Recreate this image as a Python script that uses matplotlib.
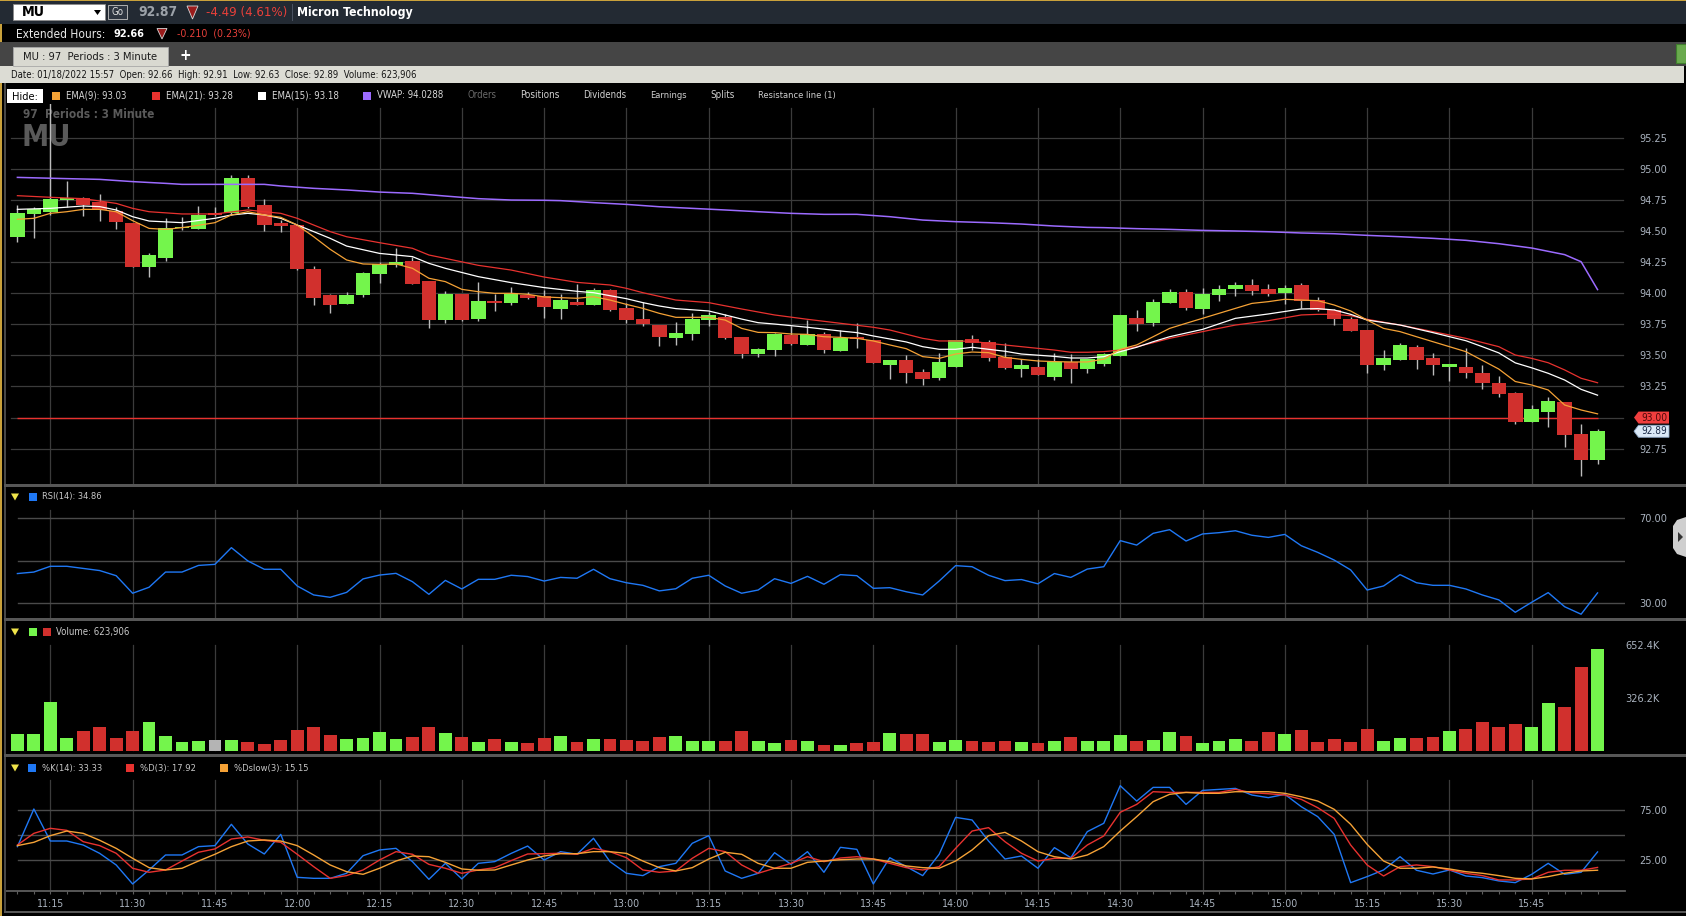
import numpy as np
import matplotlib.pyplot as plt
import matplotlib.font_manager as fm
from matplotlib.patches import Rectangle, Polygon
from matplotlib.transforms import Affine2D, blended_transform_factory

W, H = 1686, 916

# the trading UI uses a narrow font: take a narrow/condensed face if one is installed
_narrow = [f for f in fm.fontManager.ttflist
           if ('Narrow' in f.name or 'Condensed' in f.name or f.stretch == 'condensed')
           and 'Mono' not in f.name]
if _narrow:
    plt.rcParams['font.family'] = [_narrow[0].name, 'DejaVu Sans']
    if _narrow[0].stretch == 'condensed':
        plt.rcParams['font.stretch'] = 'condensed'
else:
    plt.rcParams['font.family'] = ['Liberation Sans', 'DejaVu Sans']

# --- Data (MU, 3 minute bars, 01/18/2022) ---
start_minute = 11 * 60 + 9
bar_minutes = 3

opens = [94.454, 94.639, 94.653, 94.752, 94.765, 94.733, 94.661, 94.562, 94.213, 94.286,
         94.521, 94.519, 94.637, 94.642, 94.926, 94.706, 94.562, 94.546, 94.194, 93.983,
         93.916, 93.988, 94.157, 94.227, 94.256, 94.098, 93.785, 93.994, 93.793, 93.929,
         93.924, 93.985, 93.976, 93.873, 93.929, 93.905, 94.026, 93.881, 93.792, 93.744,
         93.640, 93.672, 93.784, 93.809, 93.648, 93.511, 93.543, 93.664, 93.584, 93.672,
         93.535, 93.645, 93.624, 93.423, 93.463, 93.366, 93.318, 93.407, 93.632, 93.608,
         93.487, 93.391, 93.407, 93.326, 93.447, 93.391, 93.431, 93.498, 93.798, 93.760,
         93.924, 94.010, 93.876, 93.988, 94.036, 94.066, 94.034, 94.004, 94.066, 93.945,
         93.865, 93.792, 93.704, 93.423, 93.463, 93.567, 93.479, 93.409, 93.407, 93.358,
         93.278, 93.198, 92.964, 93.045, 93.125, 92.868, 92.66]
highs = [94.709, 94.690, 95.550, 94.902, 94.770, 94.797, 94.696, 94.565, 94.320, 94.604,
         94.610, 94.701, 94.690, 94.950, 94.950, 94.757, 94.588, 94.548, 94.221, 93.994,
         94.007, 94.170, 94.251, 94.366, 94.288, 94.100, 94.020, 93.996, 94.087, 93.994,
         94.047, 94.007, 94.026, 93.993, 94.074, 94.044, 94.031, 93.921, 93.932, 93.746,
         93.768, 93.841, 93.851, 93.833, 93.650, 93.559, 93.683, 93.739, 93.787, 93.685,
         93.701, 93.760, 93.626, 93.465, 93.503, 93.391, 93.522, 93.626, 93.664, 93.624,
         93.600, 93.471, 93.471, 93.519, 93.511, 93.473, 93.519, 93.827, 93.862, 93.953,
         94.031, 94.031, 94.042, 94.066, 94.090, 94.114, 94.077, 94.069, 94.082, 93.969,
         93.876, 93.811, 93.706, 93.543, 93.600, 93.584, 93.519, 93.433, 93.559, 93.423,
         93.334, 93.206, 93.101, 93.165, 93.127, 92.948, 92.91]
lows = [94.414, 94.441, 94.629, 94.690, 94.623, 94.583, 94.516, 94.210, 94.133, 94.259,
        94.508, 94.513, 94.620, 94.629, 94.688, 94.503, 94.495, 94.186, 93.905, 93.843,
        93.914, 93.969, 94.085, 94.213, 94.071, 93.723, 93.763, 93.779, 93.779, 93.860,
        93.908, 93.951, 93.803, 93.792, 93.903, 93.903, 93.857, 93.763, 93.739, 93.575,
        93.584, 93.624, 93.739, 93.632, 93.482, 93.490, 93.498, 93.584, 93.582, 93.522,
        93.533, 93.559, 93.440, 93.313, 93.281, 93.265, 93.302, 93.405, 93.543, 93.458,
        93.391, 93.326, 93.340, 93.302, 93.281, 93.361, 93.415, 93.496, 93.699, 93.739,
        93.922, 93.868, 93.835, 93.940, 93.980, 93.988, 93.980, 93.916, 93.884, 93.860,
        93.747, 93.697, 93.361, 93.383, 93.461, 93.393, 93.342, 93.297, 93.318, 93.230,
        93.165, 92.948, 92.962, 92.924, 92.764, 92.530, 92.63]
closes = [94.642, 94.674, 94.757, 94.760, 94.709, 94.669, 94.572, 94.213, 94.307, 94.525,
          94.531, 94.629, 94.629, 94.926, 94.693, 94.551, 94.543, 94.194, 93.964, 93.908,
          93.985, 94.162, 94.232, 94.248, 94.077, 93.785, 93.994, 93.785, 93.937, 93.924,
          93.994, 93.964, 93.885, 93.945, 93.905, 94.026, 93.865, 93.784, 93.755, 93.648,
          93.680, 93.792, 93.825, 93.640, 93.514, 93.551, 93.672, 93.592, 93.672, 93.543,
          93.642, 93.632, 93.442, 93.463, 93.361, 93.313, 93.447, 93.624, 93.600, 93.479,
          93.399, 93.423, 93.342, 93.447, 93.391, 93.471, 93.511, 93.825, 93.755, 93.929,
          94.010, 93.884, 93.993, 94.034, 94.066, 94.020, 93.996, 94.042, 93.940, 93.868,
          93.792, 93.699, 93.423, 93.479, 93.584, 93.463, 93.423, 93.431, 93.361, 93.278,
          93.192, 92.964, 93.069, 93.133, 92.860, 92.659, 92.89]
volumes = [103500, 103500, 298000, 80700, 124000, 143000, 80700, 124000, 174000, 93000,
           56000, 62000, 68000, 68000, 56000, 43000, 68000, 130000, 147000, 99000,
           74500, 80700, 112000, 74500, 87000, 147000, 105600, 87000, 56000, 74500,
           56000, 50000, 80700, 93000, 56000, 74500, 74500, 68000, 62000, 87000,
           93000, 62000, 62000, 62000, 118000, 62000, 50000, 68000, 62000, 37000,
           37000, 47600, 53800, 110000, 103500, 103500, 53800, 66000, 60000, 53800,
           60000, 53800, 47600, 60000, 85000, 60000, 60000, 97000, 60000, 66000,
           116000, 91000, 47600, 60000, 72000, 60000, 116000, 103500, 128000, 53800,
           72000, 53800, 134500, 60000, 78700, 78700, 85000, 122000, 134500, 178000,
           147000, 165600, 147000, 296000, 271000, 513000, 623906]

ema9 = [94.594, 94.602, 94.642, 94.655, 94.674, 94.674, 94.655, 94.583, 94.521, 94.513,
        94.527, 94.546, 94.567, 94.629, 94.655, 94.629, 94.610, 94.548, 94.454, 94.353,
        94.267, 94.235, 94.232, 94.235, 94.200, 94.120, 94.093, 94.031, 94.012, 93.999,
        93.999, 93.991, 93.970, 93.964, 93.959, 93.972, 93.945, 93.910, 93.878, 93.838,
        93.806, 93.806, 93.806, 93.784, 93.717, 93.685, 93.683, 93.672, 93.669, 93.650,
        93.645, 93.637, 93.616, 93.584, 93.554, 93.490, 93.476, 93.511, 93.527, 93.522,
        93.484, 93.468, 93.455, 93.450, 93.447, 93.447, 93.470, 93.549, 93.584, 93.650,
        93.717, 93.758, 93.798, 93.838, 93.878, 93.918, 93.932, 93.951, 93.945, 93.940,
        93.905, 93.857, 93.784, 93.717, 93.691, 93.650, 93.610, 93.570, 93.530, 93.460,
        93.390, 93.290, 93.262, 93.222, 93.101, 93.061, 93.03]

ema15_idx = [0, 2, 4, 5, 6, 7, 8, 10, 12, 13, 14, 15, 16, 17, 18, 19, 20, 22, 24, 25,
             26, 28, 30, 32, 34, 35, 36, 37, 38, 39, 40, 42, 43, 44, 45, 46, 48, 50, 51, 52,
             54, 55, 56, 57, 58, 59, 60, 61, 63, 64, 65, 66, 67, 68, 69, 70, 72, 74, 76, 78,
             79, 80, 81, 82, 84, 86, 88, 89, 90, 91, 92, 93, 94, 95, 96]
ema15_val = [94.674, 94.682, 94.701, 94.696, 94.669, 94.615, 94.580, 94.567, 94.602, 94.629,
             94.642, 94.629, 94.602, 94.548, 94.495, 94.441, 94.379, 94.320, 94.294, 94.240,
             94.200, 94.133, 94.085, 94.045, 94.015, 94.004, 93.980, 93.956, 93.924, 93.897,
             93.876, 93.857, 93.825, 93.792, 93.763, 93.752, 93.726, 93.696, 93.683, 93.656,
             93.608, 93.570, 93.549, 93.549, 93.565, 93.549, 93.533, 93.511, 93.492, 93.479,
             93.479, 93.490, 93.530, 93.565, 93.610, 93.650, 93.709, 93.798, 93.833, 93.873,
             93.876, 93.865, 93.830, 93.784, 93.744, 93.683, 93.618, 93.570, 93.520, 93.440,
             93.400, 93.356, 93.302, 93.227, 93.18]

ema21_idx = [0, 2, 4, 6, 7, 8, 10, 12, 14, 15, 16, 17, 18, 19, 20, 22, 24, 25, 26, 28,
             30, 32, 34, 36, 37, 38, 40, 42, 44, 46, 48, 50, 52, 53, 55, 56, 57, 58, 59, 61,
             63, 64, 65, 66, 67, 68, 69, 70, 72, 74, 76, 78, 79, 80, 81, 82, 84, 86, 88, 90,
             91, 92, 93, 94, 95, 96]
ema21_val = [94.784, 94.771, 94.760, 94.722, 94.682, 94.655, 94.637, 94.637, 94.669, 94.655,
             94.642, 94.602, 94.548, 94.495, 94.454, 94.406, 94.361, 94.307, 94.280, 94.224,
             94.186, 94.130, 94.087, 94.066, 94.039, 94.004, 93.945, 93.924, 93.873, 93.825,
             93.790, 93.758, 93.726, 93.704, 93.637, 93.616, 93.616, 93.613, 93.597, 93.570,
             93.543, 93.525, 93.525, 93.530, 93.543, 93.570, 93.602, 93.637, 93.691, 93.744,
             93.779, 93.825, 93.830, 93.830, 93.819, 93.790, 93.744, 93.691, 93.637, 93.570,
             93.503, 93.476, 93.441, 93.383, 93.316, 93.28]

vwap_idx = [0, 3, 5, 7, 9, 10, 15, 16, 18, 20, 22, 24, 26, 28, 30, 32, 33, 35, 37, 39,
            41, 43, 45, 47, 49, 51, 53, 55, 57, 59, 61, 63, 65, 66, 68, 70, 72, 74, 76, 78,
            80, 82, 84, 86, 88, 90, 92, 94, 95, 96]
vwap_val = [94.931, 94.921, 94.915, 94.897, 94.883, 94.875, 94.875, 94.862, 94.843, 94.830,
            94.813, 94.803, 94.781, 94.760, 94.749, 94.747, 94.744, 94.728, 94.714, 94.695,
            94.682, 94.669, 94.655, 94.642, 94.634, 94.634, 94.615, 94.588, 94.575, 94.567,
            94.556, 94.540, 94.529, 94.527, 94.519, 94.513, 94.505, 94.500, 94.494, 94.484,
            94.478, 94.465, 94.454, 94.441, 94.425, 94.398, 94.363, 94.310, 94.253, 94.0288]

rsi = [43.9, 44.6, 47.3, 47.3, 46.3, 45.3, 42.9, 34.7, 37.5, 44.6,
       44.6, 47.7, 48.2, 56.0, 49.8, 45.9, 45.9, 38.1, 33.9, 32.8,
       35.1, 41.4, 43.2, 44.0, 40.1, 34.2, 40.7, 36.7, 41.2, 41.2,
       43.1, 42.5, 40.4, 42.1, 41.7, 45.9, 41.5, 39.6, 38.4, 35.8,
       36.8, 41.7, 43.1, 38.1, 34.7, 36.2, 41.5, 39.3, 42.6, 38.9,
       43.4, 42.9, 37.0, 37.3, 35.4, 33.9, 40.4, 47.6, 47.1, 43.1,
       40.6, 41.1, 39.1, 43.9, 42.1, 46.0, 47.1, 59.3, 57.2, 62.7,
       64.4, 59.1, 62.4, 63.0, 63.9, 61.8, 60.8, 62.2, 56.9, 53.8,
       50.2, 45.6, 36.2, 38.1, 43.4, 39.6, 38.4, 38.4, 36.7, 33.9,
       31.6, 25.8, 30.5, 35.0, 28.4, 24.9, 34.86]

stoch_k = [38.6, 76.0, 44.2, 44.2, 40.2, 31.9, 20.4, 1.5, 15.4, 30.3,
           30.3, 38.6, 39.6, 60.8, 41.2, 31.3, 50.8, 8.1, 7.1, 7.1,
           12.1, 29.6, 35.3, 36.9, 23.7, 6.1, 22.0, 6.5, 22.0, 23.7,
           31.9, 39.2, 25.3, 33.6, 31.0, 46.9, 23.7, 12.1, 9.8, 18.7,
           22.0, 41.9, 49.5, 14.4, 7.1, 12.1, 32.6, 21.0, 33.6, 13.1,
           37.9, 35.9, 1.5, 27.6, 18.7, 9.8, 31.0, 67.7, 65.1, 44.2,
           26.3, 29.3, 17.1, 37.6, 27.6, 53.5, 61.8, 99.2, 83.9, 97.5,
           97.5, 80.6, 94.5, 95.5, 96.5, 89.9, 87.3, 90.6, 78.3, 68.4,
           50.8, 2.8, 8.8, 15.4, 28.6, 15.1, 11.4, 15.4, 9.4, 7.8,
           4.5, 2.8, 11.1, 22.0, 11.1, 13.1, 33.33]
stoch_d = [40.2, 51.8, 56.8, 54.8, 43.5, 39.6, 32.0, 17.1, 13.1, 15.4,
           24.3, 33.0, 36.3, 46.2, 48.2, 44.9, 42.9, 31.0, 18.7, 7.1,
           9.8, 15.4, 25.3, 33.6, 31.0, 21.0, 17.1, 12.1, 15.4, 17.7,
           24.7, 31.3, 31.6, 32.0, 31.0, 36.9, 33.6, 27.6, 15.4, 13.1,
           14.4, 27.0, 36.9, 33.6, 20.4, 12.1, 17.1, 22.0, 28.6, 23.7,
           27.3, 28.6, 26.3, 22.0, 17.7, 15.4, 18.7, 36.9, 54.1, 57.5,
           43.5, 32.0, 24.3, 27.0, 27.0, 40.2, 49.2, 72.7, 80.6, 93.2,
           92.5, 92.5, 92.5, 92.5, 95.5, 92.2, 91.2, 89.9, 85.6, 77.3,
           66.7, 40.2, 20.4, 9.4, 18.7, 20.4, 18.7, 15.4, 12.1, 9.8,
           5.5, 5.5, 6.5, 13.1, 15.1, 15.1, 17.92]
stoch_dslow = [39.6, 42.9, 49.5, 54.1, 51.8, 44.9, 36.9, 27.0, 17.7, 15.4,
               17.1, 24.3, 31.0, 38.6, 44.2, 45.2, 44.2, 39.6, 30.3, 20.4,
               13.7, 11.1, 17.1, 24.3, 29.3, 28.6, 23.0, 16.4, 15.1, 15.4,
               20.4, 25.3, 29.3, 31.6, 31.6, 33.6, 33.6, 31.9, 24.3, 17.7,
               14.4, 17.7, 26.3, 33.0, 31.0, 22.0, 17.1, 17.1, 23.0, 24.3,
               25.6, 26.3, 26.3, 23.7, 19.4, 17.7, 17.1, 24.3, 35.3, 49.5,
               52.8, 44.2, 33.6, 28.6, 26.3, 30.3, 38.6, 54.1, 68.4, 83.3,
               90.6, 92.5, 91.6, 91.6, 93.2, 93.2, 93.2, 91.6, 88.2, 83.9,
               75.7, 60.8, 40.9, 24.3, 17.1, 17.1, 18.4, 16.4, 13.7, 12.1,
               9.8, 7.1, 6.5, 8.8, 12.1, 14.4, 15.15]

resistance = 93.00
price_ticks = [92.75, 93.00, 93.25, 93.50, 93.75, 94.00, 94.25, 94.50, 94.75, 95.00, 95.25]
price_tick_labels = ['92.75', '93.00', '93.25', '93.50', '93.75', '94.00',
                     '94.25', '94.50', '94.75', '95.00', '95.25']
rsi_ticks = [30, 70]
rsi_tick_labels = ['30.00', '70.00']
vol_ticks = [326200, 652400]
vol_tick_labels = ['326.2K', '652.4K']
stoch_ticks = [25, 75]
stoch_tick_labels = ['25.00', '75.00']
time_labels = ['11:15', '11:30', '11:45', '12:00', '12:15', '12:30', '12:45', '13:00',
               '13:15', '13:30', '13:45', '14:00', '14:15', '14:30', '14:45', '15:00',
               '15:15', '15:30', '15:45']

# --- Colors ---
COL_UP = '#74f54c'
COL_DN = '#d1302d'
COL_FLAT = '#b4b4b4'
COL_WICK = '#bcbcbc'
COL_EMA9 = '#f5a236'
COL_EMA21 = '#e8322f'
COL_EMA15 = '#ffffff'
COL_VWAP = '#9c6bff'
COL_BLUE = '#1f78f5'
COL_GRID = '#3b3b3b'
COL_GRID2 = '#4a4a4a'
COL_AXTXT = '#aab3bf'
COL_SEP = '#575757'
COL_GOLD = '#c9a13b'

n = len(closes)
idx = np.arange(n)
o = np.array(opens)
c = np.array(closes)
hi = np.array(highs)
lo = np.array(lows)

tick_pos = [(int(t[:-3]) * 60 + int(t[-2:]) - start_minute) // bar_minutes for t in time_labels]

candle_cols = [COL_UP if cc >= oo else COL_DN for oo, cc in zip(o, c)]
vol_cols = [candle_cols[0]]
for i in range(1, n):
    d = round(c[i] - c[i - 1], 4)
    vol_cols.append(COL_UP if d > 0 else (COL_DN if d < 0 else COL_FLAT))

# --- Figure ---
fig = plt.figure(figsize=(W / 100, H / 100), dpi=100, facecolor='black')
PX = Affine2D().scale(1.0 / W, -1.0 / H).translate(0, 1) + fig.transFigure
renderer = fig.canvas.get_renderer()


def fit_size(s, width, weight='normal'):
    # font size that makes the text `width` pixels wide
    t = fig.text(0, 0, s, fontsize=10, fontweight=weight)
    w = t.get_window_extent(renderer).width
    t.remove()
    return 10.0 * width / w


def rect(x0, y0, x1, y1, **kw):
    fig.add_artist(Rectangle((x0, y0), x1 - x0, y1 - y0, transform=PX, **kw))


def poly(pts, **kw):
    fig.add_artist(Polygon(pts, closed=True, transform=PX, **kw))


def txt(x, y, s, width=None, size=8, **kw):
    kw.setdefault('va', 'center')
    if width is not None:
        size = min(size, fit_size(s, width, kw.get('fontweight', 'normal')))
    fig.text(x, y, s, transform=PX, fontsize=size, **kw)


X0, X1 = 6, 1625
AX_FS = min(9.5, fit_size('95.25', 28))


def panel(y0, y1):
    ax = fig.add_axes([X0 / W, 1 - y1 / H, (X1 - X0) / W, (y1 - y0) / H])
    ax.set_facecolor('black')
    for s in ax.spines.values():
        s.set_visible(False)
    ax.set_xlim((X0 - 17.4) / 16.46, (X1 - 17.4) / 16.46)
    ax.tick_params(which='both', left=False, right=False, bottom=False, top=False,
                   labelleft=False, labelbottom=False)
    return ax


def vgrid(ax, ymin, ymax):
    for p in tick_pos:
        ax.axvline(p, ymin=ymin, ymax=ymax, color=COL_GRID, lw=0.9, zorder=0)


def right_labels(ax, ticks, labels, pad):
    ax.set_yticks(ticks)
    ax.set_yticklabels(labels)
    ax.tick_params(axis='y', labelright=True, labelleft=False, right=False, left=False,
                   length=0, pad=pad, labelsize=AX_FS, labelcolor=COL_AXTXT)


# --- Price panel ---
axp = panel(104, 484)
axp.set_ylim(92.466, 95.521)
vgrid(axp, 0, 0.9895)
for v in price_ticks:
    axp.axhline(v, xmin=0.003, xmax=0.9988, color=COL_GRID, lw=0.9, zorder=0)
axp.text(23, 118.5, '97  Periods : 3 Minute', transform=PX, color='#5a5a5a',
         fontsize=min(10.5, fit_size('97  Periods : 3 Minute', 130, 'bold')),
         fontweight='bold', va='baseline', zorder=0.5)
axp.text(21, 146, 'MU', transform=PX, color='#5a5a5a',
         fontsize=min(22, fit_size('MU', 55, 'bold')),
         fontweight='bold', va='baseline', zorder=0.5)
axp.hlines(resistance, 0, n - 1, color=COL_EMA21, lw=1.0, zorder=1)
axp.vlines(idx, lo, hi, color=COL_WICK, lw=1.0, zorder=2)
axp.bar(idx, np.maximum(np.abs(c - o), 0.012), bottom=np.minimum(o, c), width=0.88,
        color=candle_cols, linewidth=0, zorder=3)
axp.plot(vwap_idx, vwap_val, color=COL_VWAP, lw=1.1, zorder=4)
axp.plot(ema21_idx, ema21_val, color=COL_EMA21, lw=0.9, zorder=4)
axp.plot(ema15_idx, ema15_val, color=COL_EMA15, lw=0.9, zorder=4)
axp.plot(idx, ema9, color=COL_EMA9, lw=0.9, zorder=4)
right_labels(axp, price_ticks, price_tick_labels, 10.5)

# --- RSI panel ---
axr = panel(487, 618)
axr.set_ylim(23.13, 84.35)
vgrid(axr, 0, 0.824)
for v in (30, 50, 70):
    axr.axhline(v, xmin=0.0074, xmax=0.9994, color=COL_GRID2, lw=1.0, zorder=0)
axr.plot(idx, rsi, color=COL_BLUE, lw=1.0, zorder=3)
right_labels(axr, rsi_ticks, rsi_tick_labels, 10.5)

# --- Volume panel ---
axv = panel(621, 753)
axv.set_ylim(-14700, 799300)
vgrid(axv, 0.023, 0.818)
axv.bar(idx, volumes, width=0.78, color=vol_cols, linewidth=0, zorder=3)
right_labels(axv, vol_ticks, vol_tick_labels, 0.5)

# --- Stochastic panel ---
axs = panel(757, 891)
axs.set_ylim(-5.5, 127.7)
vgrid(axs, 0, 0.828)
for v in (25, 50, 75):
    axs.axhline(v, xmin=0.0074, xmax=0.9994, color=COL_GRID2, lw=1.0, zorder=0)
axs.plot(idx, stoch_k, color=COL_BLUE, lw=1.0, zorder=3)
axs.plot(idx, stoch_d, color=COL_EMA21, lw=1.0, zorder=3)
axs.plot(idx, stoch_dslow, color=COL_EMA9, lw=1.0, zorder=3)
right_labels(axs, stoch_ticks, stoch_tick_labels, 10.5)
axs.spines['bottom'].set_visible(True)
axs.spines['bottom'].set_color('#5e5e5e')
axs.spines['bottom'].set_linewidth(1.3)
axs.set_xticks(tick_pos)
axs.set_xticklabels(time_labels)
axs.set_xticks(idx, minor=True)
axs.tick_params(axis='x', which='both', bottom=True, labelbottom=True, length=2.5,
                width=0.8, color='#5e5e5e', direction='out', pad=3.5,
                labelsize=min(9.5, fit_size('11:15', 27)), labelcolor=COL_AXTXT)

# --- Price tags on the right axis ---
tagT = blended_transform_factory(PX, axp.transData)
hh = 6.0 * (95.521 - 92.466) / 380
TAG_FS = min(9.5, fit_size('93.00', 26))


def tag(val, fc, ec, tc):
    fig.add_artist(Polygon([(1634, val), (1638.5, val + hh), (1669, val + hh),
                            (1669, val - hh), (1638.5, val - hh)], closed=True,
                           transform=tagT, fc=fc, ec=ec, lw=0.6, zorder=5))
    fig.text(1667.5, val, f'{val:.2f}', transform=tagT, color=tc, fontsize=TAG_FS,
             ha='right', va='center', zorder=6)


tag(resistance, '#f03e3e', 'none', '#4a0808')
tag(closes[-1], '#dbe9f7', '#8fa9c8', '#1a2a48')

# --- Frame, separators ---
rect(0, 0, W, 1.3, fc=COL_GOLD, ec='none')
rect(0, 23, 1.8, H, fc=COL_GOLD, ec='none')
rect(4, 83, 5.5, 913, fc='#474747', ec='none')
for y in (485.5, 619.5, 755.5):
    rect(4, y - 1.2, W, y + 1.2, fc=COL_SEP, ec='none')
rect(4, 911, W, 913, fc=COL_SEP, ec='none')
poly([(W, 517), (1677, 520), (1673, 526), (1673, 548), (1677, 554), (W, 557)],
     fc='#cfcfcf', ec='none')
poly([(1678, 532), (1678, 542), (1683, 537)], fc='#333333', ec='none')

# --- Header rows ---
rect(0, 1.3, W, 24, fc='#232a33', ec='none')
rect(0, 42, W, 66, fc='#454545', ec='none')
rect(0, 66, 1684, 83, fc='#dcdcd4', ec='none')

rect(13, 4, 105, 20, fc='white', ec='#8a8a8a', lw=0.6)
txt(22, 12.5, 'MU', width=23, size=12, fontweight='bold', color='black')
poly([(94, 10), (101, 10), (97.5, 15)], fc='black', ec='none')
rect(108, 5, 127, 19, fc='#2e3540', ec='#b0b0b0', lw=0.7)
txt(117.5, 12, 'Go', width=12, size=8, color='#e0e0e0', ha='center')
txt(138, 12.5, '92.87', width=39, size=13, fontweight='bold', color='#9ca2a9')
poly([(187, 6), (198, 6), (192.5, 19)], fc='#9a1b1b', ec='#d8d8d8', lw=0.6)
txt(206, 12.5, '-4.49 (4.61%)', width=81, size=13, color='#e8403a')
rect(291.5, 4, 292.5, 21, fc='#4a5260', ec='none')
txt(297, 12.5, 'Micron Technology', width=115, size=13, fontweight='bold', color='white')

txt(16, 34, 'Extended Hours:', width=89, size=10, color='#e8e8e8')
txt(113, 34, '92.66', width=31, size=10, fontweight='bold', color='white')
poly([(157, 28.5), (167, 28.5), (162, 39)], fc='#9a1b1b', ec='#d8d8d8', lw=0.6)
txt(177, 34, '-0.210  (0.23%)', width=74, size=10, color='#e8403a')

rect(13, 47, 168, 66, fc='#d9d9d1', ec='#a8a8a8', lw=0.6)
txt(23, 57.5, 'MU : 97  Periods : 3 Minute', width=135, size=10, color='#1a1a1a')
txt(185, 56, '+', size=11, fontweight='bold', color='white', ha='center')
rect(1676, 44, W, 63, fc='#6aaa4e', ec='#3f7f2c', lw=0.8)

txt(11, 75, 'Date: 01/18/2022 15:57  Open: 92.66  High: 92.91  Low: 92.63  '
            'Close: 92.89  Volume: 623,906', width=407, size=8.5, color='#151515')

rect(7, 89, 43, 103, fc='white', ec='none')
txt(12, 96.5, 'Hide:', width=26, size=9, color='black')
for x, col, label, wd in [(52, COL_EMA9, 'EMA(9): 93.03', 61),
                          (152, COL_EMA21, 'EMA(21): 93.28', 67),
                          (258, COL_EMA15, 'EMA(15): 93.18', 67),
                          (363, COL_VWAP, 'VWAP: 94.0288', 67)]:
    rect(x, 91.5, x + 8, 99.5, fc=col, ec='none')
    txt(x + 14, 95.5, label, width=wd, size=9, color='#d8d8d8')
for x, col, label, wd in [(467, '#6a6a6a', 'Orders', 29), (520, '#d0d0d0', 'Positions', 39),
                          (583, '#d0d0d0', 'Dividends', 43), (650, '#d0d0d0', 'Earnings', 36),
                          (710, '#d0d0d0', 'Splits', 24),
                          (758, '#d0d0d0', 'Resistance line (1)', 77)]:
    txt(x, 95.5, label, width=wd, size=9, color=col)


# --- Panel titles ---
def panel_title(y, boxes):
    poly([(11, y - 3.5), (19, y - 3.5), (15, y + 3.5)], fc='#f0e44a', ec='none')
    for x, col, label, wd in boxes:
        rect(x, y - 4, x + 7.5, y + 4, fc=col, ec='none')
        if label:
            txt(x + 13.5, y, label, width=wd, size=8.5, color='#c8c8c8')


panel_title(497, [(29, COL_BLUE, 'RSI(14): 34.86', 60)])
panel_title(632, [(29, COL_UP, None, 0), (43, COL_DN, 'Volume: 623,906', 74)])
panel_title(768, [(28, COL_BLUE, '%K(14): 33.33', 60), (126, COL_EMA21, '%D(3): 17.92', 56),
                  (220, COL_EMA9, '%Dslow(3): 15.15', 75)])

fig.savefig('out.png', dpi=100, facecolor='black')
